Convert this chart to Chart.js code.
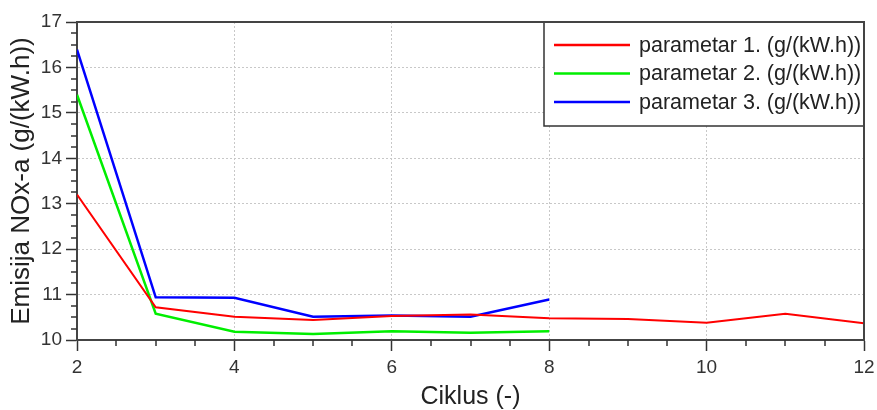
<!DOCTYPE html>
<html>
<head>
<meta charset="utf-8">
<script src="https://cdn.jsdelivr.net/npm/chart.js@4"></script>
<style>
  html, body { margin: 0; padding: 0; background: #fff; }
  canvas { display: block; }
</style>
</head>
<body>
<canvas id="chart-nox" width="877" height="410"></canvas>
<script>
/* ── Données ───────────────────────────────────────────────────── */
const cycles   = [2, 3, 4, 5, 6, 7, 8, 9, 10, 11, 12];
const param1   = [13.2, 10.72, 10.51, 10.44, 10.53, 10.56, 10.48, 10.46, 10.38, 10.58, 10.37];
const param2   = [15.40, 10.58, 10.18, 10.13, 10.19, 10.16, 10.19];
const param3   = [16.39, 10.94, 10.93, 10.51, 10.54, 10.51, 10.89];
const labels   = ['parametar 1. (g/(kW.h))', 'parametar 2. (g/(kW.h))', 'parametar 3. (g/(kW.h))'];
const colors   = ['#ff0000', '#00ee00', '#0000ff'];
const xTicks   = [2, 4, 6, 8, 10, 12];
const yTicks   = [10, 11, 12, 13, 14, 15, 16, 17];

const FONT = '"Liberation Sans", Arial, sans-serif';
const points = vals => vals.map((v, i) => ({ x: cycles[i], y: v }));

/* ── Petites graduations ───────────────────────────────────────── */
const minorTicks = {
  id: 'minorTicks',
  afterDraw(chart) {
    const { ctx, chartArea: a, scales: { x, y } } = chart;
    ctx.save();
    ctx.strokeStyle = '#333';
    ctx.lineWidth = 1.5;
    ctx.beginPath();
    for (let v = xTicks[0]; v <= xTicks[xTicks.length - 1]; v += 0.5) {
      if (xTicks.includes(v)) continue;
      const px = Math.round(x.getPixelForValue(v));
      ctx.moveTo(px, a.bottom); ctx.lineTo(px, a.bottom + 6);
    }
    for (let v = yTicks[0]; v <= yTicks[yTicks.length - 1]; v += 0.25) {
      if (yTicks.includes(v)) continue;
      const py = Math.round(y.getPixelForValue(v));
      ctx.moveTo(a.left - 6, py); ctx.lineTo(a.left, py);
    }
    ctx.stroke();
    ctx.restore();
  },
};

/* ── Légende encadrée + cadre ──────────────────────────────────── */
const boxLegend = {
  id: 'boxLegend',
  afterDraw(chart) {
    const { ctx, chartArea: a } = chart;
    const w = 320, h = 104;
    const bx = a.right - w, by = a.top;
    ctx.save();
    ctx.fillStyle = '#fff';
    ctx.fillRect(bx, by, w, h);
    ctx.font = '21.5px ' + FONT;
    ctx.textBaseline = 'middle';
    chart.data.datasets.forEach((ds, i) => {
      const ry = by + 23 + i * 28.5;
      ctx.strokeStyle = ds.borderColor;
      ctx.lineWidth = 2.5;
      ctx.beginPath();
      ctx.moveTo(bx + 10, ry); ctx.lineTo(bx + 86, ry);
      ctx.stroke();
      ctx.fillStyle = '#222';
      ctx.fillText(ds.label, bx + 95, ry + 1);
    });
    ctx.strokeStyle = '#333';
    ctx.lineWidth = 1.5;
    ctx.strokeRect(bx, by, w, h);
    // cadre haut / droite
    ctx.strokeStyle = '#444';
    ctx.lineWidth = 2;
    ctx.beginPath();
    ctx.moveTo(a.left, a.top); ctx.lineTo(a.right, a.top); ctx.lineTo(a.right, a.bottom);
    ctx.stroke();
    ctx.restore();
  },
};

const series = [param1, param2, param3];

new Chart(document.getElementById('chart-nox'), {
  type: 'line',
  data: {
    datasets: series.map((vals, i) => ({
      label: labels[i], data: points(vals),
      borderColor: colors[i], backgroundColor: colors[i],
      borderWidth: i === 0 ? 2 : 2.5, pointRadius: 0, tension: 0, fill: false,
    })),
  },
  options: {
    responsive: false, animation: false,
    layout: { padding: { top: 22, right: 13, left: 0, bottom: 0 } },
    plugins: { legend: { display: false }, tooltip: { enabled: false } },
    scales: {
      x: {
        type: 'linear', min: 2, max: 12,
        afterFit: s => { s.height = 70; s.paddingRight = 0; s.paddingLeft = 0; },
        afterBuildTicks: s => { s.ticks = xTicks.map(v => ({ value: v })); },
        grid: { color: '#c8c8c8', tickColor: '#333', tickLength: 11, tickWidth: 1.5, tickBorderDash: [] },
        border: { display: true, color: '#444', width: 2, dash: [2, 2] },
        ticks: { color: '#333', padding: 5, maxRotation: 0, font: { family: FONT, size: 19 } },
        title: { display: true, text: 'Ciklus (-)', color: '#222', padding: { top: 0, bottom: -2 }, font: { family: FONT, size: 25 } },
      },
      y: {
        type: 'linear', min: 10, max: 17,
        afterFit: s => { s.width = 77; s.paddingTop = 0; s.paddingBottom = 0; },
        afterBuildTicks: s => { s.ticks = yTicks.map(v => ({ value: v })); },
        grid: { color: '#c8c8c8', tickColor: '#333', tickLength: 11, tickWidth: 1.5, tickBorderDash: [] },
        border: { display: true, color: '#444', width: 2, dash: [2, 2] },
        ticks: { color: '#333', padding: 4, font: { family: FONT, size: 19 } },
        title: { display: true, text: 'Emisija NOx-a (g/(kW.h))', color: '#222', padding: { top: 6, bottom: 0 }, font: { family: FONT, size: 26 } },
      },
    },
  },
  plugins: [minorTicks, boxLegend],
});
</script>
</body>
</html>
